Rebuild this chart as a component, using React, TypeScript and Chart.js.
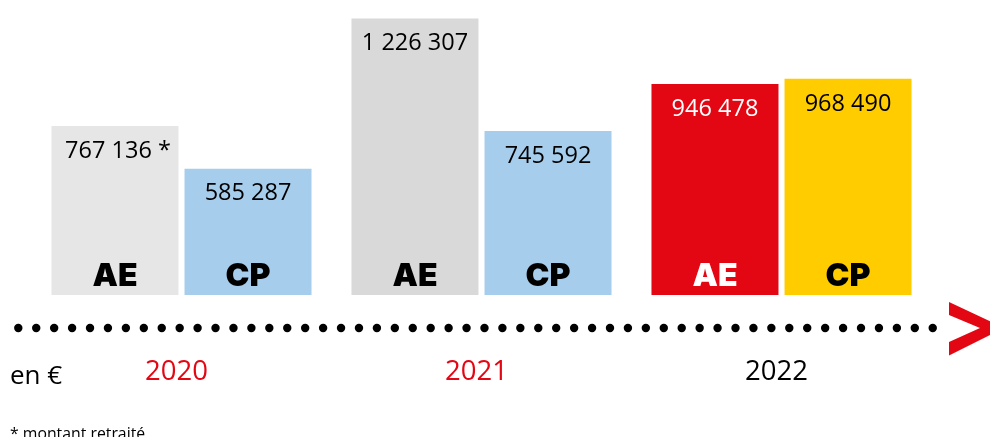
import React, { useEffect, useRef } from "react";
import { Chart, registerables } from "chart.js";

Chart.register(...registerables);

const years = ["2020", "2021", "2022"];
const seriesNames = ["AE", "CP"];
const aeValues = [767136, 1226307, 946478];
const cpValues = [585287, 745592, 968490];
const aeNotes = [" *", "", ""];
const cpNotes = ["", "", ""];
const aeColors = ["#e6e6e6", "#d9d9d9", "#e30613"];
const cpColors = ["#a6cdec", "#a6cdec", "#ffcc00"];
const aeTextColors = ["#000000", "#000000", "#ffffff"];
const cpTextColors = ["#000000", "#000000", "#000000"];
const yearColors = ["#e30613", "#e30613", "#000000"];
const unitLabel = "en €";
const footnote = "* montant retraité";

const FONT = "'Open Sans', 'DejaVu Sans', sans-serif";
const BOLD_FONT = "Inter, 'Open Sans', sans-serif";

function fmt(v: number): string {
  return String(v).replace(/\B(?=(\d{3})+(?!\d))/g, " ");
}

const labelsPlugin = {
  id: "infoLabels",
  afterDatasetsDraw(chart: any) {
    const { ctx, chartArea } = chart;
    const notes = [aeNotes, cpNotes];
    const textColors = [aeTextColors, cpTextColors];
    ctx.save();
    chart.data.datasets.forEach((ds: any, di: number) => {
      const meta = chart.getDatasetMeta(di);
      meta.data.forEach((el: any, i: number) => {
        const v = ds.data[i] as number;
        ctx.fillStyle = textColors[di][i];
        ctx.textAlign = "center";
        ctx.textBaseline = "middle";
        ctx.font = `400 23.5px ${FONT}`;
        ctx.fillText(fmt(v) + notes[di][i], el.x + (notes[di][i] ? 3 : 0), el.y + 25);
        ctx.font = `900 32px ${BOLD_FONT}`;
        ctx.fillText(seriesNames[di], el.x, el.base - 30);
      });
    });

    // dotted timeline
    const dotY = chartArea.bottom + 33;
    ctx.fillStyle = "#000000";
    for (let k = 0; k < 52; k++) {
      const x = 18.3 + k * 17.93;
      ctx.beginPath();
      ctx.arc(x, dotY, 4.2, 0, Math.PI * 2);
      ctx.fill();
    }
    // red chevron
    ctx.fillStyle = "#e30613";
    ctx.beginPath();
    ctx.moveTo(949, dotY - 26);
    ctx.lineTo(996, dotY - 4);
    ctx.lineTo(996, dotY + 4);
    ctx.lineTo(949, dotY + 27.5);
    ctx.lineTo(949, dotY + 14);
    ctx.lineTo(980, dotY);
    ctx.lineTo(949, dotY - 13);
    ctx.closePath();
    ctx.fill();

    // year labels
    const xScale = chart.scales.x;
    ctx.font = `400 27.5px ${FONT}`;
    ctx.textAlign = "center";
    ctx.textBaseline = "middle";
    years.forEach((y, i) => {
      ctx.fillStyle = yearColors[i];
      ctx.fillText(y, xScale.getPixelForValue(i) - 5, chartArea.bottom + 77);
    });

    // unit and footnote
    ctx.fillStyle = "#000000";
    ctx.textAlign = "left";
    ctx.textBaseline = "alphabetic";
    ctx.font = `400 26px ${FONT}`;
    ctx.fillText(unitLabel, 10, 384);
    ctx.font = `400 15.8px ${FONT}`;
    ctx.fillText(footnote, 10, 439);
    ctx.restore();
  },
};

export default function App() {
  const ref = useRef<HTMLCanvasElement | null>(null);
  useEffect(() => {
    if (!ref.current) return;
    const chart = new Chart(ref.current, {
      type: "bar",
      data: {
        labels: years,
        datasets: [
          {
            label: seriesNames[0],
            data: aeValues,
            backgroundColor: aeColors,
            borderWidth: 0,
            categoryPercentage: 0.887,
            barPercentage: 0.9545,
          },
          {
            label: seriesNames[1],
            data: cpValues,
            backgroundColor: cpColors,
            borderWidth: 0,
            categoryPercentage: 0.887,
            barPercentage: 0.9545,
          },
        ],
      },
      options: {
        animation: false,
        responsive: true,
        maintainAspectRatio: false,
        layout: { padding: { left: 31.5, right: 58.5, top: 11, bottom: 142 } },
        plugins: { legend: { display: false }, tooltip: { enabled: false } },
        scales: {
          x: { display: false },
          y: { display: false, min: 46500, max: 1258000 },
        },
      },
      plugins: [labelsPlugin],
    });
    return () => chart.destroy();
  }, []);
  return (
    <div style={{ position: "fixed", left: 0, top: 0, width: 990, height: 437, background: "#ffffff" }}>
      <canvas ref={ref} />
    </div>
  );
}
